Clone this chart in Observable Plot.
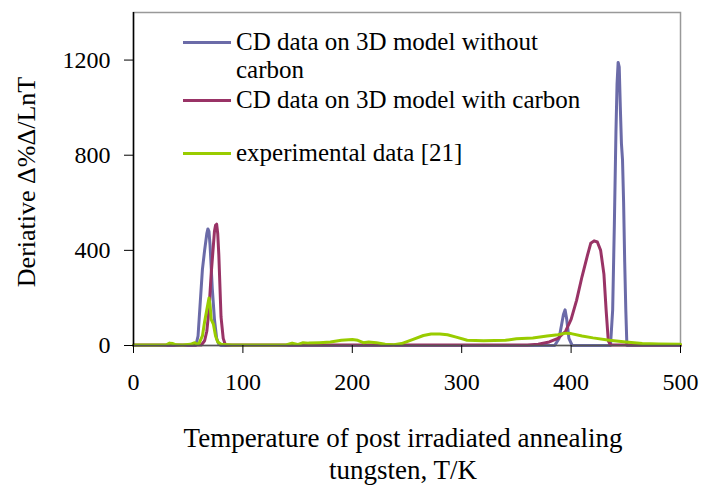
<!DOCTYPE html>
<html>
<head>
<meta charset="utf-8">
<script src="https://cdn.jsdelivr.net/npm/d3@7"></script>
<script src="https://cdn.jsdelivr.net/npm/@observablehq/plot@0.6"></script>
<style>
  html, body { margin: 0; padding: 0; background: #fff; }
  #wrap { position: relative; width: 701px; height: 487px; font-family: "Liberation Serif", "Times New Roman", serif; }
  #wrap svg { position: absolute; left: 0; top: 0; }
  #wrap svg text { font-family: "Liberation Serif", "Times New Roman", serif !important; }
  .lab { position: absolute; color: #000; white-space: nowrap; font-family: "Liberation Serif", "Times New Roman", serif; }
</style>
</head>
<body>
<div id="wrap"></div>
<script>
const seriesNames = ["CD data on 3D model without carbon", "CD data on 3D model with carbon", "experimental data [21]"];
const seriesColors = ["#6b6ba8", "#993366", "#99cc00"];

const blueT = [0, 50, 57, 59, 61, 63, 65, 67, 68, 69, 70, 71, 72, 74, 76, 78, 80, 385, 389, 391, 393, 394.5, 396, 398, 401, 436, 438, 439.5, 441, 442, 443, 444, 445, 446, 447, 448, 449, 450, 451, 460, 500];
const blueV = [0, 0, 0, 40, 180, 320, 400, 470, 490, 480, 420, 330, 240, 110, 30, 5, 0, 0, 30, 80, 130, 150, 110, 30, 0, 0, 150, 500, 900, 1100, 1190, 1170, 1000, 850, 780, 600, 350, 150, 0, 0, 0];

const magT = [0, 62, 65, 67, 69, 71, 73, 74, 75, 76, 77, 78, 79, 80, 82, 84, 360, 370, 380, 388, 395, 400, 405, 410, 415, 418, 421, 424, 427, 430, 432, 434, 436, 500];
const magV = [2, 2, 20, 60, 150, 300, 420, 480, 505, 510, 470, 380, 250, 120, 30, 2, 2, 5, 15, 30, 60, 110, 190, 290, 380, 430, 440, 435, 400, 300, 150, 20, 2, 2];

const greenT = [0, 20, 30, 33, 36, 39, 45, 52, 56, 58, 60, 63, 65, 67, 69, 70, 71, 73, 75, 77, 80, 90, 110, 130, 140, 145, 150, 155, 160, 170, 180, 190, 200, 205, 210, 215, 222, 230, 238, 245, 255, 265, 272, 280, 287, 295, 305, 320, 340, 350, 365, 378, 388, 395, 400, 410, 420, 435, 450, 465, 480, 500];
const greenV = [2, 2, 3, 10, 8, 3, 2, 5, 12, 5, 10, 40, 100, 150, 200, 170, 110, 90, 40, 15, 5, 2, 2, 2, 3, 10, 4, 12, 10, 12, 15, 22, 25, 22, 12, 15, 12, 5, 3, 8, 25, 42, 48, 48, 45, 35, 22, 20, 22, 28, 32, 40, 45, 52, 50, 40, 32, 22, 15, 8, 6, 5];

const xTicks = [0, 100, 200, 300, 400, 500];
const yTicks = [0, 400, 800, 1200];
const xTitleLines = ["Temperature of post irradiated annealing", "tungsten, T/K"];
const yTitle = "Deriative \u0394%\u0394/LnT";

const toRows = (T, V) => T.map((t, i) => ({t, v: V[i]}));
const blue = toRows(blueT, blueV);
const mag = toRows(magT, magV);
const green = toRows(greenT, greenV);

const serif = "Liberation Serif, Times New Roman, serif";

const chart = Plot.plot({
  width: 701,
  height: 487,
  marginLeft: 133,
  marginRight: 21,
  marginTop: 12,
  marginBottom: 142,
  style: {fontFamily: serif, fontSize: "24px", color: "#000", background: "transparent"},
  x: {domain: [0, 500]},
  y: {domain: [0, 1400]},
  marks: [
    Plot.frame({stroke: "#999", strokeWidth: 1.5}),
    Plot.line(blue, {x: "t", y: "v", stroke: seriesColors[0], strokeWidth: 3}),
    Plot.line(mag, {x: "t", y: "v", stroke: seriesColors[1], strokeWidth: 3}),
    Plot.line(green, {x: "t", y: "v", stroke: seriesColors[2], strokeWidth: 3}),
    Plot.ruleX([0], {stroke: "#000", strokeWidth: 1.5}),
    Plot.ruleY([0], {stroke: "#555", strokeWidth: 1.5}),
    Plot.axisX({ticks: xTicks, tickSize: 8, tickPadding: 19, label: null, fontSize: 24, fontFamily: serif, tickFormat: d => String(d)}),
    Plot.axisY({ticks: yTicks, tickSize: 9, tickPadding: 14, label: null, fontSize: 24, fontFamily: serif, tickFormat: d => String(d)})
  ]
});

const wrap = document.getElementById("wrap");
wrap.appendChild(chart);

// Axis titles
const xt1 = document.createElement("div");
xt1.className = "lab";
xt1.style.cssText = "left:403px; top:422px; transform:translateX(-50%); font-size:27px; line-height:32px;";
xt1.textContent = xTitleLines[0];
wrap.appendChild(xt1);
const xt2 = document.createElement("div");
xt2.className = "lab";
xt2.style.cssText = "left:403px; top:454px; transform:translateX(-50%); font-size:27px; line-height:32px;";
xt2.textContent = xTitleLines[1];
wrap.appendChild(xt2);

const yt = document.createElement("div");
yt.className = "lab";
yt.style.cssText = "left:27px; top:182px; transform:translate(-50%,-50%) rotate(-90deg); font-size:26px; line-height:30px;";
yt.textContent = yTitle;
wrap.appendChild(yt);

// Legend
const legendItems = [
  {lines: ["CD data on 3D model without", "carbon"], y: 42, gap: 28},
  {lines: ["CD data on 3D model with carbon"], y: 100, gap: 0},
  {lines: ["experimental data [21]"], y: 153, gap: 0}
];
legendItems.forEach((item, i) => {
  const sw = document.createElement("div");
  sw.style.cssText = `position:absolute; left:183px; top:${item.y - 1.5}px; width:48px; height:3px; background:${seriesColors[i]};`;
  wrap.appendChild(sw);
  item.lines.forEach((ln, j) => {
    const d = document.createElement("div");
    d.className = "lab";
    d.style.cssText = `left:236px; top:${item.y - 12 + j * item.gap}px; font-size:25px; line-height:24px;`;
    d.textContent = ln;
    wrap.appendChild(d);
  });
});
</script>
</body>
</html>
